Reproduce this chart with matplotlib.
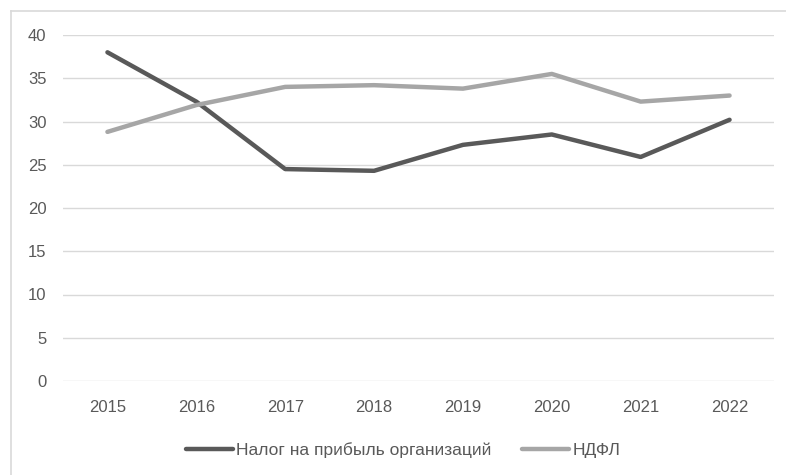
import matplotlib
matplotlib.use('Agg')
import matplotlib.pyplot as plt
from matplotlib.lines import Line2D

years = ['2015', '2016', '2017', '2018', '2019', '2020', '2021', '2022']
profit_tax = [38.0, 32.3, 24.5, 24.3, 27.3, 28.5, 25.9, 30.2]
ndfl = [28.8, 31.9, 34.0, 34.2, 33.8, 35.5, 32.3, 33.0]
yticks = [0, 5, 10, 15, 20, 25, 30, 35, 40]

plt.rcParams['font.family'] = ['Liberation Sans', 'DejaVu Sans']

fig = plt.figure(figsize=(7.86, 4.75), dpi=100)
ax = fig.add_axes([63 / 786, 1 - 381 / 475, (774 - 63) / 786, (381 - 35) / 475])

x = range(len(years))
ax.plot(x, profit_tax, color='#595959', linewidth=3.2, solid_capstyle='round',
        label='Налог на прибыль организаций')
ax.plot(x, ndfl, color='#a6a6a6', linewidth=3.2, solid_capstyle='round', label='НДФЛ')

ax.set_ylim(0, 40)
ax.set_xlim(-0.5, 7.5)
ax.set_yticks(yticks)
ax.set_xticks(list(x))
ax.set_xticklabels(years)
ax.grid(axis='y', color='#d9d9d9', linewidth=1)
ax.set_axisbelow(True)
for s in ax.spines.values():
    s.set_visible(False)
ax.tick_params(length=0, labelsize=12, colors='#595959')
ax.tick_params(axis='x', pad=14)
ax.tick_params(axis='y', pad=12)

# chart frame (only left and top edges visible in the crop)
fig.add_artist(Line2D([11 / 786, 11 / 786], [0, 1 - 11 / 475], color='#d9d9d9', linewidth=1.2))
fig.add_artist(Line2D([11 / 786, 1], [1 - 11 / 475, 1 - 11 / 475], color='#d9d9d9', linewidth=1.2))

fig.legend(loc='center', bbox_to_anchor=(403 / 786, 1 - 450 / 475), ncol=2, frameon=False,
           fontsize=12.5, handlelength=2.7, handletextpad=0.17, columnspacing=1.8,
           labelcolor='#595959', borderpad=0)

fig.savefig('out.png', dpi=100)
